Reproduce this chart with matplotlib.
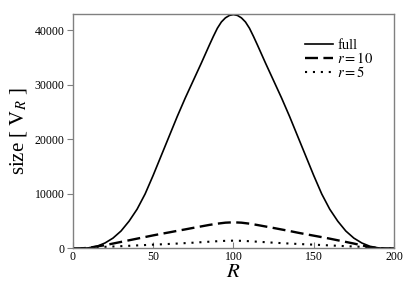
import matplotlib
matplotlib.use("Agg")
import matplotlib.pyplot as plt

plt.rcParams['font.family'] = ['Liberation Serif', 'DejaVu Serif']
plt.rcParams['mathtext.fontset'] = 'stix'

R = list(range(0, 201, 5))

R_full = [0, 5, 10, 15, 20, 25, 30, 35, 40, 45, 50, 55, 60, 65, 70, 75, 80, 85,
          87.5, 90, 92.5, 95, 97.5, 100, 102.5, 105, 107.5, 110, 112.5,
          115, 120, 125, 130, 135, 140, 145, 150, 155, 160, 165, 170, 175,
          180, 185, 190, 195, 200]
full = [0, 20, 120, 400, 1000, 1900, 3200, 5000, 7200, 10000, 13400, 17000,
        20600, 24200, 27600, 30800, 34000, 37300,
        38900, 40400, 41550, 42300, 42750, 42900, 42750, 42300, 41550, 40400, 38900,
        37300, 34000, 30800, 27600, 24200, 20600, 17000, 13400, 10000, 7200, 5000,
        3200, 1900, 1000, 400, 120, 20, 0]

r10 = [0, 20, 120, 380, 600, 900, 1200, 1500, 1800, 2100,
       2400, 2680, 2950, 3230, 3500, 3780, 4050, 4320, 4550, 4730,
       4800,
       4730, 4550, 4300, 4030, 3760, 3480, 3200, 2900, 2620,
       2350, 2080, 1800, 1500, 1200, 900, 580, 220, 40, 5, 0]

r5 = [0, 15, 80, 200, 300, 360, 420, 490, 560, 630,
      700, 760, 830, 900, 980, 1060, 1150, 1240, 1330, 1400,
      1430,
      1400, 1330, 1240, 1150, 1060, 980, 900, 830, 760,
      700, 630, 560, 490, 420, 360, 300, 200, 80, 15, 0]

yticks = [0, 10000, 20000, 30000, 40000]
xticks = [0, 50, 100, 150, 200]

fig = plt.figure(figsize=(4.07, 2.93), dpi=100)
ax = fig.add_axes([0.179, 0.152, 0.789, 0.800])

ax.plot(R_full, full, color='black', lw=1.2, label='full')
ax.plot(R, r10, color='black', lw=1.7, dashes=(5.5, 2.3), label='$r = 10$')
ax.plot(R, r5, color='black', lw=1.5, dashes=(1, 2.8), label='$r = 5$')

ax.set_xlim(0, 200)
ax.set_ylim(0, 43000)
ax.set_xticks(xticks)
ax.set_yticks(yticks)

for s in ax.spines.values():
    s.set_color('#808080')
    s.set_linewidth(1.0)
ax.tick_params(axis='x', direction='in', length=4, color='#808080', labelsize=8.5, pad=2)
ax.tick_params(axis='y', direction='out', length=4, color='#808080', labelsize=8.5, pad=2)

ax.set_xlabel('$R$', fontsize=15, labelpad=0)
ax.set_ylabel(r'size [ $\mathrm{V}_R$ ]', fontsize=15, labelpad=4)

ax.legend(loc='upper right', bbox_to_anchor=(0.955, 0.92), frameon=False,
          fontsize=10.5, handlelength=1.9, handletextpad=0.3, labelspacing=-0.05,
          borderaxespad=0)

fig.savefig('out.png', dpi=100)
